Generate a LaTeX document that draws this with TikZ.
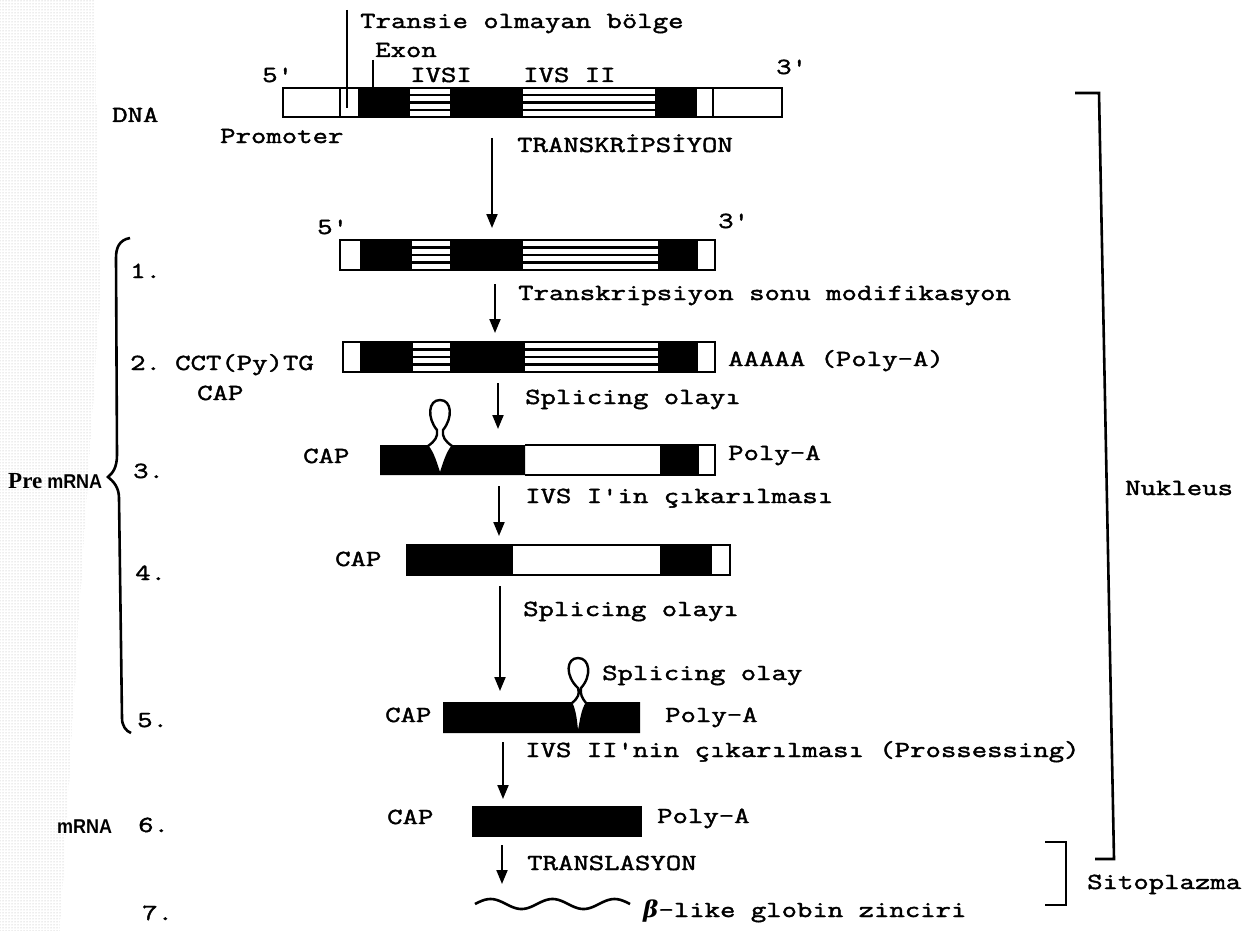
\documentclass[tikz,border=0pt]{standalone}
\usepackage{fontspec}
\setmonofont{Latin Modern Mono}[FakeStretch=1.3, FakeBold=1.8]
\newfontfamily\grk{DejaVu Serif}
\newfontfamily\lblfont{Liberation Sans}[FakeStretch=0.9]
\newfontfamily\prefont{Liberation Serif}
\usetikzlibrary{arrows.meta,patterns}
\newcommand\tw{\ttfamily\fontsize{23}{27}\selectfont}
\newcommand\hseg[4]{%
  \fill[white] (#1,#3) rectangle (#2,#4);
  \foreach \f in {0.25,0.5,0.75}{\draw[line width=2.2pt] (#1,{#3+\f*(#4-#3)}) -- (#2,{#3+\f*(#4-#3)});}}
\newcommand\bseg[4]{\fill[black] (#1,#3) rectangle (#2,#4);}
\tikzset{
  tl/.style={inner sep=0pt, anchor=base west, font=\tw},
  sl/.style={inner sep=0pt, anchor=base west, font=\lblfont\bfseries\fontsize{20}{22}\selectfont},
  outl/.style={draw=black, line width=2.6pt},
  sep/.style={line width=2.6pt},
  conn/.style={line width=2pt, -{Triangle[length=14pt,width=11pt]}},
  brk/.style={line width=2.6pt},
}
\begin{document}
\begin{tikzpicture}[x=1pt,y=-1pt]
\useasboundingbox (0,0) rectangle (1258,931);
\fill[white] (0,0) rectangle (1258,931);
% faint halftone of the scan at the left edge
\fill[pattern=dots, pattern color=gray!60] (0,0) -- (95,0) -- (100,300) -- (80,600) -- (60,931) -- (0,931) -- cycle;

% ---------- DNA row ----------
\coordinate (tr0) at (347,10); \coordinate (tr1) at (347,108);
\coordinate (ex0) at (373,60); \coordinate (ex1) at (373,88);
\draw[line width=2pt] (ex0) -- (ex1);
\bseg{358}{410}{88}{117}
\hseg{410}{450}{88}{117}
\bseg{450}{523}{88}{117}
\hseg{523}{655}{88}{117}
\bseg{655}{697}{88}{117}
\draw[outl] (283,88) rectangle (782,117);
\draw[sep] (340,88) -- (340,117);
\draw[sep] (713,88) -- (713,117);
\draw[line width=2pt] (tr0) -- (tr1);

\node[tl] (transie) at (360,28) {Transie olmayan bölge};
\node[tl] (exon) at (375,57) {Exon};
\node[tl] (ivs1) at (410,82) {IVSI};
\node[tl] (ivs2) at (523,82) {IVS II};
\node[tl] (p5a) at (262,82) {5'};
\node[tl] (p3a) at (776,74) {3'};
\node[tl] (dna) at (112,122) {DNA};
\node[tl] (prom) at (220,143) {Promoter};
\node[tl] (trk) at (517,152) {TRANSKRİPSİYON};
\coordinate (a1s) at (492,138); \coordinate (a1e) at (492,228);
\draw[conn] (a1s) -- (a1e);

% ---------- Row 1 ----------
\bseg{360}{412}{240}{270}
\hseg{412}{450}{240}{270}
\bseg{450}{523}{240}{270}
\hseg{523}{658}{240}{270}
\bseg{658}{698}{240}{270}
\draw[outl] (340,240) rectangle (715,270);
\node[tl] (p5b) at (317,234) {5'};
\node[tl] (p3b) at (718,228) {3'};
\node[tl] (n1) at (130,278) {1.};
\coordinate (a2s) at (495,284); \coordinate (a2e) at (495,333);
\draw[conn] (a2s) -- (a2e);
\node[tl] (tsm) at (518,300) {Transkripsiyon sonu modifikasyon};

% ---------- Row 2 ----------
\bseg{360}{413}{342}{372}
\hseg{413}{450}{342}{372}
\bseg{450}{525}{342}{372}
\hseg{525}{658}{342}{372}
\bseg{658}{698}{342}{372}
\draw[outl] (343,342) rectangle (715,372);
\node[tl] (n2) at (130,370) {2.};
\node[tl] (cct) at (175,370) {CCT(Py)TG};
\node[tl] (cap2) at (197,400) {CAP};
\node[tl] (polya2) at (728,366) {AAAAA (Poly-A)};
\coordinate (a3s) at (498,383); \coordinate (a3e) at (498,429);
\draw[conn] (a3s) -- (a3e);
\node[tl] (spl1) at (525,404) {Splicing olayı};

% ---------- Row 3 ----------
\fill[black] (380,445) -- (428,445) .. controls (434,452) and (437,463) .. (440,472)
  .. controls (443,463) and (446,452) .. (452,445) -- (525,445) -- (525,475) -- (380,475) -- cycle;
\bseg{660}{698}{445}{475}
\draw[outl] (525,445) -- (715,445) -- (715,475) -- (525,475);
\draw[sep] (698,445) -- (698,475);
\draw[line width=2.4pt] (428,446) .. controls (435,441) and (438,437) .. (437,430)
  .. controls (427,418) and (428,400) .. (440,400)
  .. controls (452,400) and (453,418) .. (443,430)
  .. controls (442,437) and (445,441) .. (452,446);
\node[tl] (cap3) at (303,463) {CAP};
\node[tl] (polya3) at (728,460) {Poly-A};
\node[tl] (n3) at (133,478) {3.};
\coordinate (a4s) at (499,486); \coordinate (a4e) at (499,536);
\draw[conn] (a4s) -- (a4e);
\node[tl] (ivs1c) at (525,503) {IVS I'in çıkarılması};

% ---------- Row 4 ----------
\bseg{407}{513}{545}{575}
\bseg{660}{712}{545}{575}
\draw[outl] (407,545) rectangle (730,575);
\node[tl] (cap4) at (335,566) {CAP};
\node[tl] (n4) at (135,580) {4.};
\coordinate (a5s) at (500,586); \coordinate (a5e) at (500,691);
\draw[conn] (a5s) -- (a5e);
\node[tl] (spl2) at (523,616) {Splicing olayı};

% ---------- Row 5 ----------
\fill[black] (443,702) -- (572,702) .. controls (576,710) and (577,720) .. (578,730)
  .. controls (580,720) and (581,710) .. (586,702) -- (640,702) -- (640,733) -- (443,733) -- cycle;
\draw[line width=2.4pt] (572,703) .. controls (578,698) and (580,694) .. (578,688)
  .. controls (565,676) and (566,658) .. (578,658)
  .. controls (590,658) and (592,676) .. (581,688)
  .. controls (580,694) and (582,698) .. (586,703);
\node[tl] (spl3) at (602,680) {Splicing olay};
\node[tl] (polya5) at (665,722) {Poly-A};
\node[tl] (cap5) at (385,722) {CAP};
\node[tl] (n5) at (137,727) {5.};
\coordinate (a6s) at (503,742); \coordinate (a6e) at (503,799);
\draw[conn] (a6s) -- (a6e);
\node[tl] (ivs2c) at (525,757) {IVS II'nin çıkarılması (Prossessing)};

% ---------- Row 6 ----------
\bseg{472}{642}{806}{837}
\node[tl] (cap6) at (387,824) {CAP};
\node[tl] (polya6) at (657,823) {Poly-A};
\node[sl] (mrna) at (57,833) {mRNA};
\node[tl] (n6) at (138,832) {6.};
\coordinate (a7s) at (502,845); \coordinate (a7e) at (502,884);
\draw[conn] (a7s) -- (a7e);
\node[tl] (transl) at (527,870) {TRANSLASYON};

% ---------- Row 7 ----------
\draw[line width=2.6pt] plot[domain=0:155, samples=80, smooth] ({475+\x},{904-5*sin(5.806*\x)});
\node[tl] (glob) at (643,917) {{\grk\bfseries\itshape β}-like globin zinciri};
\node[tl] (n7) at (142,920) {7.};

% ---------- Pre mRNA brace ----------
\draw[brk] (130,238) .. controls (119,240) and (116,248) .. (116,258) -- (117,455)
  .. controls (117,467) and (113,473) .. (108,477)
  .. controls (113,481) and (119,487) .. (119,498) -- (122,718)
  .. controls (122,726) and (126,731) .. (131,733);
\node[sl] (pre) at (8,488) {{\prefont\bfseries\fontsize{23}{24}\selectfont Pre} mRNA};

% ---------- Nukleus / Sitoplazma brackets ----------
\draw[brk] (1075,93) -- (1099,93) -- (1114,859) -- (1095,859);
\node[tl] (nuk) at (1125,495) {Nukleus};
\draw[brk] (1045,842) -- (1066,842) -- (1066,905) -- (1045,905);
\node[tl] (sito) at (1087,889) {Sitoplazma};
\end{tikzpicture}
\end{document}
